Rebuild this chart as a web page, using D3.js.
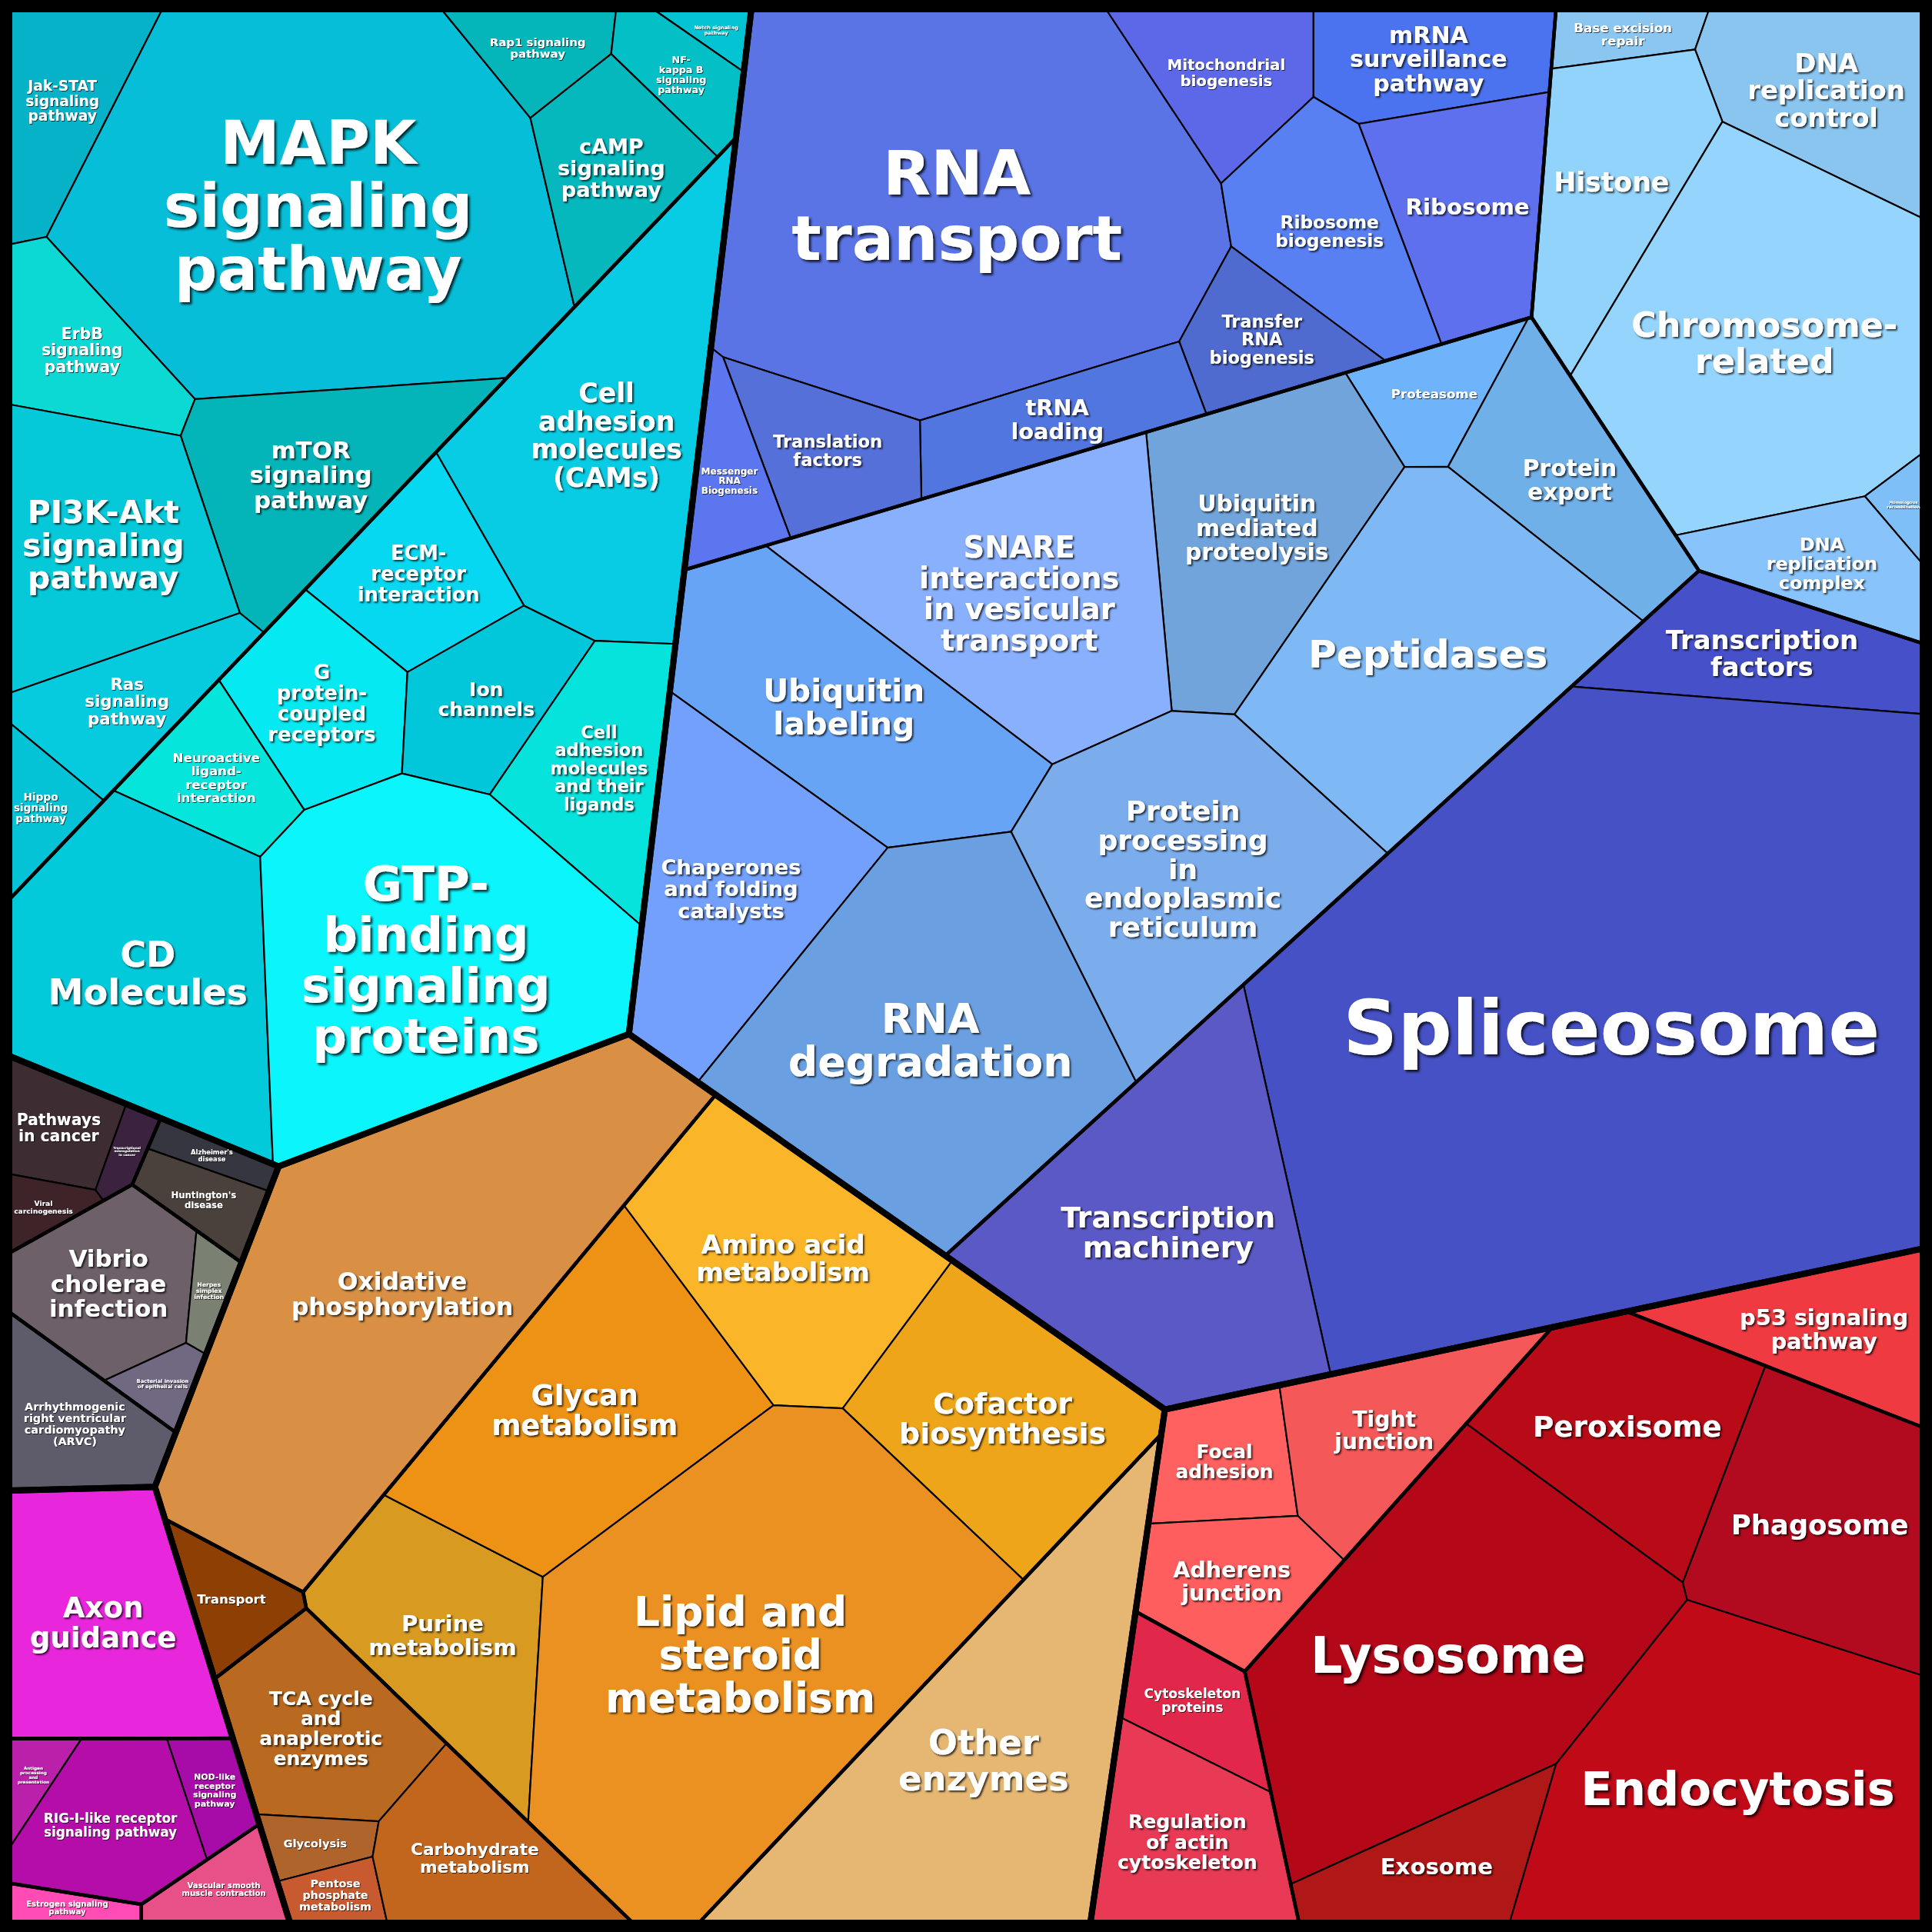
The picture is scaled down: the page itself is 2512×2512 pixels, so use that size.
<!DOCTYPE html>
<html>
<head>
<meta charset="utf-8">
<title>Voronoi treemap</title>
<script src="https://cdn.jsdelivr.net/npm/d3@7/dist/d3.min.js"></script>
<style>
  body { margin: 0; background: #000; }
  text { font-family: "DejaVu Sans", sans-serif; font-weight: bold; }
</style>
</head>
<body>
<script>
// ---- data ----
var topGroups = ["Environmental Information Processing", "Human Diseases", "Organismal Systems",
  "Metabolism", "Cellular Processes", "Genetic Information Processing"];

var subGroups = ["Signal transduction", "Signaling molecules and interaction", "Cancers",
  "Neurodegenerative diseases", "Infectious diseases", "Cardiovascular diseases", "Development",
  "Immune system", "Endocrine system", "Circulatory system", "Energy metabolism", "Membrane transport",
  "Carbohydrate metabolism", "Biosynthesis", "Other enzymes", "Cellular community", "Cell motility",
  "Transport and catabolism", "Cell growth and death", "Translation", "Replication and repair",
  "Folding, sorting and degradation", "Transcription"];
var subGroupTop = [0, 0, 1, 1, 1, 1, 2, 2, 2, 2, 3, 3, 3, 3, 3, 4, 4, 4, 4, 5, 5, 5, 5];

// "\n" marks where the label wraps
var pathways = [
  "Jak-STAT\nsignaling\npathway", "MAPK\nsignaling\npathway", "Rap1 signaling\npathway",
  "Notch signaling\npathway", "NF-\nkappa B\nsignaling\npathway", "cAMP\nsignaling\npathway",
  "ErbB\nsignaling\npathway", "mTOR\nsignaling\npathway", "PI3K-Akt\nsignaling\npathway",
  "Ras\nsignaling\npathway", "Hippo\nsignaling\npathway",
  "Cell\nadhesion\nmolecules\n(CAMs)", "ECM-\nreceptor\ninteraction", "G\nprotein-\ncoupled\nreceptors",
  "Ion\nchannels", "Neuroactive\nligand-\nreceptor\ninteraction",
  "Cell\nadhesion\nmolecules\nand their\nligands", "CD\nMolecules", "GTP-\nbinding\nsignaling\nproteins",
  "Pathways\nin cancer", "Transcriptional\nmisregulation\nin cancer", "Viral\ncarcinogenesis",
  "Alzheimer's\ndisease", "Huntington's\ndisease", "Vibrio\ncholerae\ninfection",
  "Herpes\nsimplex\ninfection", "Bacterial invasion\nof epithelial cells",
  "Arrhythmogenic\nright ventricular\ncardiomyopathy\n(ARVC)",
  "Axon\nguidance", "Antigen\nprocessing\nand\npresentation", "RIG-I-like receptor\nsignaling pathway",
  "NOD-like\nreceptor\nsignaling\npathway", "Estrogen signaling\npathway", "Vascular smooth\nmuscle contraction",
  "Oxidative\nphosphorylation", "Transport", "TCA cycle\nand\nanaplerotic\nenzymes", "Glycolysis",
  "Pentose\nphosphate\nmetabolism", "Carbohydrate\nmetabolism", "Purine\nmetabolism",
  "Glycan\nmetabolism", "Amino acid\nmetabolism", "Cofactor\nbiosynthesis",
  "Lipid and\nsteroid\nmetabolism", "Other\nenzymes",
  "Focal\nadhesion", "Tight\njunction", "Adherens\njunction", "Cytoskeleton\nproteins",
  "Regulation\nof actin\ncytoskeleton", "Lysosome", "Exosome", "Endocytosis", "Phagosome",
  "Peroxisome", "p53 signaling\npathway",
  "RNA\ntransport", "Mitochondrial\nbiogenesis", "mRNA\nsurveillance\npathway", "Ribosome",
  "Ribosome\nbiogenesis", "Transfer\nRNA\nbiogenesis", "tRNA\nloading", "Translation\nfactors",
  "Messenger\nRNA\nBiogenesis",
  "Base excision\nrepair", "DNA\nreplication\ncontrol", "Histone", "Chromosome-\nrelated",
  "Homologous\nrecombination", "DNA\nreplication\ncomplex",
  "Proteasome", "Protein\nexport", "Ubiquitin\nmediated\nproteolysis",
  "SNARE\ninteractions\nin vesicular\ntransport", "Peptidases", "Ubiquitin\nlabeling",
  "Chaperones\nand folding\ncatalysts", "RNA\ndegradation",
  "Protein\nprocessing\nin\nendoplasmic\nreticulum",
  "Transcription\nfactors", "Spliceosome", "Transcription\nmachinery"
];
var pathwaySub = [
  0, 0, 0, 0, 0, 0, 0, 0, 0, 0, 0,
  1, 1, 1, 1, 1, 1, 1, 1,
  2, 2, 2, 3, 3, 4, 4, 4, 5,
  6, 7, 7, 7, 8, 9,
  10, 11, 12, 12, 12, 12, 13, 13, 13, 13, 13, 14,
  15, 15, 15, 16, 16, 17, 17, 17, 17, 17, 18,
  19, 19, 19, 19, 19, 19, 19, 19, 19,
  20, 20, 20, 20, 20, 20,
  21, 21, 21, 21, 21, 21, 21, 21, 21,
  22, 22, 22
];
var pathwayValues = [
  14.3, 104.7, 7.3, 2.0, 6.9, 16.0, 14.3, 27.3, 31.2, 13.9, 5.5,
  50.9, 15.9, 16.8, 14.2, 10.8, 19.7, 46.5, 68.1,
  7.1, 2.0, 2.7, 2.5, 4.9, 16.5, 2.5, 2.9, 12.3,
  30.2, 2.6, 15.4, 4.4, 2.5, 5.5,
  93.3, 6.6, 20.0, 3.7, 3.5, 17.2, 27.4, 45.1, 35.8, 34.6, 101.7, 62.7,
  10.6, 18.6, 14.0, 9.4, 19.8, 72.8, 14.7, 67.2, 33.6, 29.5, 17.4,
  112.2, 14.5, 15.5, 21.1, 20.6, 11.5, 14.3, 13.7, 8.0,
  4.8, 22.3, 24.0, 66.3, 2.1, 13.4,
  8.8, 21.3, 35.9, 49.3, 53.5, 40.6, 34.9, 69.5, 50.7,
  19.7, 235.6, 56.7
];

// ---- styles ----
var pathwayColors = [
  "#05b2c8", "#07bed8", "#04b6ba", "#04c4d4", "#03bfc6", "#04b8be", "#0cd9d4", "#03b5b9", "#05c9d9", "#06cbde", "#04c3d6",
  "#08cce3", "#07d8f1", "#05eaf2", "#02c6d9", "#05e5dc", "#05e3dc", "#03cadb", "#0bf5fd",
  "#3e2c33", "#3b2340", "#3e2428", "#363640", "#4a403c", "#6d6068", "#7a8072", "#716882", "#5e5b6a",
  "#e826dc", "#ba20aa", "#b40daa", "#a80ca8", "#ff4bb3", "#e85188",
  "#d99045", "#8e3f03", "#ba6a20", "#af642c", "#c85a30", "#c2661e", "#d99a22", "#ee9215", "#fbb528", "#eea519", "#eb9122", "#e5b773",
  "#ff6060", "#f45858", "#ff5e5e", "#e2284a", "#e83a55", "#b40718", "#b01717", "#c00a18", "#b20a1e", "#b80a17", "#ee3a40",
  "#5a74e6", "#5d68e8", "#4b72ef", "#5f70ee", "#5880f3", "#506bcf", "#5276df", "#5570d8", "#5c76f0",
  "#8ac6f0", "#8ac5ef", "#91d3fb", "#95d5fd", "#7fbff8", "#88c4fb",
  "#6fb4fb", "#70b0e9", "#70a4db", "#89b0fd", "#7eb9f5", "#68a4f6", "#72a0fc", "#6aa0e1", "#7bacec",
  "#4650c9", "#4551c4", "#5b59c6"
];

// ---- layout: fixed generator point of each cell (reference px, 0..1568) ----
var topSeedX = [283, 77, 85, 540, 1105, 960];
var topSeedY = [569, 1071, 1391, 1250, 1332, 650];
var subSeedX = [200, 420, 53, 153, 110, 52, 100, 100, 87, 154, 330, 224, 324, 503, 803, 1125, 960, 1363, 1480, 800, 1366, 904, 1171];
var subSeedY = [250, 460, 947, 990, 1050, 1130, 1310, 1470, 1550, 1550, 1080, 1280, 1410, 1224, 1508, 1182, 1482, 1395, 1095, 200, 245, 550, 844];
var seedX = [
  50, 270, 430, 576, 555, 492, 103, 284, 77, 122, 64,
  490, 345, 272, 400, 185, 480, 110, 350,
  50, 100, 38, 178, 162, 95, 170, 130, 65,
  90, 32, 100, 175, 55, 170,
  330, 200, 265, 260, 272, 385, 370, 468, 635, 810, 620, 780,
  995, 1115, 1000, 985, 930, 1170, 1236, 1420, 1512, 1294, 1480,
  770, 1000, 1153, 1165, 1093, 972, 820, 714, 604,
  1291, 1500, 1310, 1430, 1548, 1475,
  1156, 1276, 992, 840, 1156, 726, 621, 759, 973,
  1394, 1370, 950
];
var seedY = [
  58, 170, 39, 23, 53, 118, 322, 393, 462, 592, 662,
  395, 478, 568, 575, 625, 630, 790, 780,
  922, 940, 985, 940, 985, 1048, 1055, 1125, 1160,
  1310, 1440, 1485, 1460, 1552, 1535,
  1070, 1300, 1410, 1493, 1540, 1515, 1345, 1155, 1030, 1160, 1360, 1440,
  1182, 1165, 1285, 1385, 1495, 1330, 1476, 1530, 1243, 1160, 1085,
  207, 55, 55, 128, 155, 318, 375, 377, 418,
  25, 98, 170, 242, 400, 462,
  373, 438, 476, 490, 589, 639, 785, 897, 790,
  535, 840, 934
];

var W = 2512, inset = 12;
var ref = d3.scaleLinear().domain([0, 1568]).range([0, W]);
var started = Date.now();

// build hierarchy top group -> sub group -> pathway
var tree = {name: "root", children: topGroups.map(function(g, gi) {
  return {name: g, index: gi, children: subGroups.map(function(s, si) { return si; })
    .filter(function(si) { return subGroupTop[si] === gi; })
    .map(function(si) {
      return {name: subGroups[si], index: si, children: pathways.map(function(p, pi) { return pi; })
        .filter(function(pi) { return pathwaySub[pi] === si; })
        .map(function(pi) { return {name: pathways[pi], value: pathwayValues[pi], index: pi}; })};
    })};
})};
var root = d3.hierarchy(tree).sum(function(d) { return d.value || 0; });

function seedOf(node) {
  var i = node.data.index;
  if (node.depth === 1) return [ref(topSeedX[i]), ref(topSeedY[i])];
  if (node.depth === 2) return [ref(subSeedX[i]), ref(subSeedY[i])];
  return [ref(seedX[i]), ref(seedY[i])];
}

// ---- power diagram by half-plane clipping; each vertex remembers which neighbour its outgoing edge faces ----
function clip(poly, a, b, c, j) {
  var out = [];
  for (var i = 0; i < poly.length; i++) {
    var p = poly[i], q = poly[(i + 1) % poly.length];
    var fp = a * p.x + b * p.y - c, fq = a * q.x + b * q.y - c;
    var pin = fp <= 0, qin = fq <= 0;
    if (pin) out.push(p);
    if (pin !== qin) {
      var t = fp / (fp - fq);
      out.push({x: p.x + t * (q.x - p.x), y: p.y + t * (q.y - p.y), l: pin ? j : p.l});
    }
  }
  return out;
}
function powerCells(bound, sites) {
  var b = bound.map(function(p) { return {x: p[0], y: p[1], l: -1}; });
  return sites.map(function(s, i) {
    var poly = b;
    for (var j = 0; j < sites.length && poly.length > 2; j++) {
      if (j === i) continue;
      var t = sites[j];
      poly = clip(poly, 2 * (t.x - s.x), 2 * (t.y - s.y),
        (t.x * t.x + t.y * t.y - t.w) - (s.x * s.x + s.y * s.y - s.w), j);
    }
    return poly.length > 2 ? poly : null;
  });
}
function areaOf(poly) {
  var s = 0;
  for (var i = 0; i < poly.length; i++) {
    var p = poly[i], q = poly[(i + 1) % poly.length];
    s += p.x * q.y - q.x * p.y;
  }
  return Math.abs(s) / 2;
}

// sites stay where the seeds put them; only the weights move until each cell has its share of area
function voronoiMap(bound, kids) {
  var area = Math.abs(d3.polygonArea(bound));
  var total = d3.sum(kids, function(k) { return k.value; });
  var cen = d3.polygonCentroid(bound);
  var sites = kids.map(function(k, i) {
    var h = seedOf(k), p = h, t = 0;
    while (!d3.polygonContains(bound, p) && t < 1) {
      t += 0.02;
      p = [h[0] + (cen[0] - h[0]) * t, h[1] + (cen[1] - h[1]) * t];
    }
    return {x: p[0] + i * 0.3, y: p[1], w: 0, target: k.value / total * area};
  });
  var dmin = sites.map(function(s, i) {
    return d3.min(sites, function(t, j) { return j === i ? Infinity : (s.x - t.x) * (s.x - t.x) + (s.y - t.y) * (s.y - t.y); });
  });
  for (var it = 0; it < 4000; it++) {
    if (Date.now() - started > 20000) break;
    var cells = powerCells(bound, sites);
    var err = 0;
    var dw = sites.map(function(s, i) {
      var cell = cells[i];
      if (!cell) { err += s.target; return 0.05 * dmin[i]; }
      var a = areaOf(cell);
      err += Math.abs(a - s.target);
      var g = 0;
      for (var k = 0; k < cell.length; k++) {
        var p = cell[k], q = cell[(k + 1) % cell.length];
        if (p.l >= 0) {
          var o = sites[p.l];
          g += Math.hypot(q.x - p.x, q.y - p.y) / (2 * Math.hypot(o.x - s.x, o.y - s.y));
        }
      }
      if (g <= 0) return 0;
      var step = 0.5 * (s.target - a) / g;
      var cap = 0.2 * dmin[i];
      return Math.max(-cap, Math.min(cap, step));
    });
    sites.forEach(function(s, i) { s.w += dw[i]; });
    if (err / area < 0.0006) break;
  }
  return powerCells(bound, sites).map(function(c) {
    return c ? c.map(function(p) { return [p.x, p.y]; }) : null;
  });
}

function layoutNode(node, poly) {
  node.polygon = poly;
  if (!node.children) return;
  if (node.children.length === 1) { layoutNode(node.children[0], poly); return; }
  var cells = voronoiMap(poly, node.children);
  node.children.forEach(function(c, i) { layoutNode(c, cells[i] || [poly[0], poly[0], poly[0]]); });
}
layoutNode(root, [[inset, inset], [W - inset, inset], [W - inset, W - inset], [inset, W - inset]]);

// ---- draw ----
var svg = d3.select("body").append("svg").attr("width", W).attr("height", W);
svg.append("rect").attr("width", W).attr("height", W).attr("fill", "#000");

var defs = svg.append("defs");
[1, 2, 3].forEach(function(k) {
  defs.append("filter").attr("id", "shadow" + k)
    .attr("x", "-10%").attr("y", "-10%").attr("width", "125%").attr("height", "130%")
    .append("feDropShadow")
    .attr("dx", k * 0.9).attr("dy", k * 0.9).attr("stdDeviation", k * 0.45)
    .attr("flood-color", "#000").attr("flood-opacity", 0.8);
});

function pathOf(d) { return "M" + d.polygon.join("L") + "Z"; }

svg.append("g").selectAll("path")
  .data(root.leaves())
  .join("path")
  .attr("d", pathOf)
  .attr("fill", function(d) { return pathwayColors[d.data.index]; })
  .attr("stroke", "#000")
  .attr("stroke-width", 2.2)
  .attr("stroke-linejoin", "round");

svg.append("g").selectAll("path")
  .data(root.descendants().filter(function(d) { return d.depth === 2; }))
  .join("path")
  .attr("d", pathOf)
  .attr("fill", "none")
  .attr("stroke", "#000")
  .attr("stroke-width", 4.5)
  .attr("stroke-linejoin", "round");

svg.append("g").selectAll("path")
  .data(root.children)
  .join("path")
  .attr("d", pathOf)
  .attr("fill", "none")
  .attr("stroke", "#000")
  .attr("stroke-width", 8)
  .attr("stroke-linejoin", "round");

svg.append("rect")
  .attr("x", inset / 2).attr("y", inset / 2)
  .attr("width", W - inset).attr("height", W - inset)
  .attr("fill", "none").attr("stroke", "#000").attr("stroke-width", inset);

// ---- labels ----
var ctx = document.createElement("canvas").getContext("2d");
ctx.font = "bold 100px 'DejaVu Sans'";
var LH = 1.05;

function fits(poly, cx, cy, hw, hh) {
  return [[cx - hw, cy - hh], [cx + hw, cy - hh], [cx + hw, cy + hh], [cx - hw, cy + hh]]
    .every(function(p) { return d3.polygonContains(poly, p); });
}

var labels = root.leaves().map(function(d) {
  var lines = d.data.name.split("\n");
  var wEm = d3.max(lines, function(l) { return ctx.measureText(l).width; }) / 100;
  var hEm = lines.length * LH;
  var c = d3.polygonCentroid(d.polygon);
  var area = Math.abs(d3.polygonArea(d.polygon));
  var lo = 1, hi = 0.15 * Math.sqrt(area);
  if (!fits(d.polygon, c[0], c[1], hi * wEm * 0.58, hi * hEm * 0.46)) {
    for (var k = 0; k < 30; k++) {
      var mid = (lo + hi) / 2;
      if (fits(d.polygon, c[0], c[1], mid * wEm * 0.58, mid * hEm * 0.46)) lo = mid; else hi = mid;
    }
    hi = lo;
  }
  return {lines: lines, x: c[0], y: c[1], size: hi};
});

svg.append("g").selectAll("text")
  .data(labels)
  .join("text")
  .attr("transform", function(d) { return "translate(" + d.x + "," + d.y + ")"; })
  .attr("text-anchor", "middle")
  .attr("font-size", function(d) { return d.size; })
  .attr("fill", "#fff")
  .attr("filter", function(d) { return "url(#shadow" + (d.size > 60 ? 3 : d.size > 22 ? 2 : 1) + ")"; })
  .selectAll("tspan")
  .data(function(d) { return d.lines.map(function(l, i) { return {t: l, i: i, n: d.lines.length}; }); })
  .join("tspan")
  .attr("x", 0)
  .attr("y", function(t) { return ((t.i - (t.n - 1) / 2) * LH) + "em"; })
  .attr("dy", "0.36em")
  .text(function(t) { return t.t; });
</script>
</body>
</html>
